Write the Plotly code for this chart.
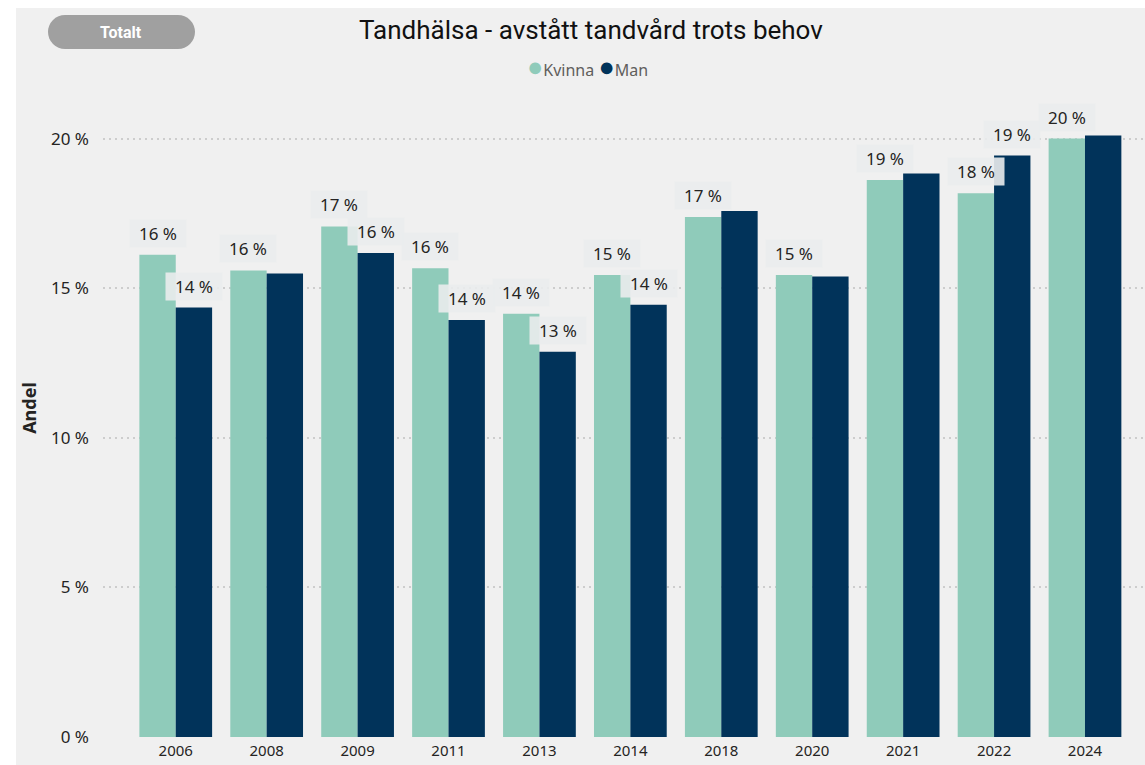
import plotly.graph_objects as go

years = ["2006", "2008", "2009", "2011", "2013", "2014", "2018", "2020", "2021", "2022", "2024"]
kvinna = [16.12, 15.6, 17.07, 15.67, 14.15, 15.45, 17.39, 15.45, 18.62, 18.18, 20.01]
man = [14.36, 15.5, 16.18, 13.94, 12.88, 14.45, 17.59, 15.4, 18.84, 19.44, 20.11]
show_kvinna = [True, True, True, True, True, True, True, True, True, True, True]
show_man = [True, False, True, True, True, True, False, False, False, True, False]
y_ticks = [0, 5, 10, 15, 20]
y_ticktext = ["0 %", "5 %", "10 %", "15 %", "20 %"]

C_KV = "#8FCBBA"
C_MAN = "#01335A"
TXT = "#252423"
W, H = 1145, 765
L, R, T, B = 103, 0, 79, 28
PW = W - L - R
PH = H - T - B


def xp(px):
    return (px - L) / PW


def yp(py):
    return (H - B - py) / PH


fig = go.Figure()
fig.add_trace(go.Bar(x=list(range(len(years))), y=kvinna, name="Kvinna", marker_color=C_KV,
                     marker_line_width=0, showlegend=False))
fig.add_trace(go.Bar(x=list(range(len(years))), y=man, name="Man", marker_color=C_MAN,
                     marker_line_width=0, showlegend=False))

annotations = []
for i, (k, m) in enumerate(zip(kvinna, man)):
    for val, show, off in ((k, show_kvinna[i], -0.2), (m, show_man[i], 0.2)):
        if not show:
            continue
        annotations.append(dict(
            x=i + off, y=val, xref="x", yref="y", text=f"{round(val)} %",
            showarrow=False, yanchor="bottom", xanchor="center", yshift=7,
            font=dict(family="Noto Sans", size=17, color=TXT),
            bgcolor="rgba(234,236,237,0.9)", borderpad=3, width=50, height=21,
        ))

# legend (Power BI style: dot + label, tightly spaced)
annotations.append(dict(
    x=xp(587), y=yp(66), xref="paper", yref="paper",
    text=(f'<span style="color:{C_KV};font-size:27px">●</span>Kvinna '
          f'<span style="color:{C_MAN};font-size:27px">●</span>Man'),
    showarrow=False, xanchor="center", yanchor="middle",
    font=dict(family="Noto Sans", size=16, color="#605E5C"),
))
annotations.append(dict(
    x=xp(121), y=yp(32), xref="paper", yref="paper", text="<b>Totalt</b>",
    showarrow=False, xanchor="center", yanchor="middle",
    font=dict(family="Roboto", size=16, color="white"),
))
annotations.append(dict(
    x=xp(591), y=yp(30), xref="paper", yref="paper",
    text="Tandhälsa - avstått tandvård trots behov",
    showarrow=False, xanchor="center", yanchor="middle",
    font=dict(family="Roboto", size=26, color="#111111"),
))

shapes = [
    dict(type="rect", xref="paper", yref="paper", x0=xp(0), x1=xp(W), y0=yp(0), y1=yp(8),
         fillcolor="white", line_width=0, layer="above"),
    dict(type="rect", xref="paper", yref="paper", x0=xp(0), x1=xp(16), y0=yp(0), y1=yp(H),
         fillcolor="white", line_width=0, layer="above"),
    dict(type="rect", xref="paper", yref="paper", x0=xp(65), x1=xp(178), y0=yp(15), y1=yp(49),
         fillcolor="#A0A0A0", line_width=0, layer="above"),
    dict(type="circle", xref="paper", yref="paper", x0=xp(48), x1=xp(82), y0=yp(15), y1=yp(49),
         fillcolor="#A0A0A0", line_width=0, layer="above"),
    dict(type="circle", xref="paper", yref="paper", x0=xp(161), x1=xp(195), y0=yp(15), y1=yp(49),
         fillcolor="#A0A0A0", line_width=0, layer="above"),
]

fig.update_layout(
    width=W, height=H, autosize=False,
    margin=dict(l=L, r=R, t=T, b=B, pad=0),
    paper_bgcolor="#F0F0F0", plot_bgcolor="rgba(0,0,0,0)",
    barmode="group", bargap=0.2, bargroupgap=0,
    annotations=annotations, shapes=shapes, showlegend=False,
    font=dict(family="Noto Sans", color=TXT),
)
fig.update_xaxes(
    tickmode="array", tickvals=list(range(len(years))), ticktext=years,
    range=[-0.8, 10.66], showgrid=False, zeroline=False, showline=False,
    tickfont=dict(family="Noto Sans", size=15, color=TXT), ticklabelstandoff=3,
)
fig.update_yaxes(
    range=[0, 22], tickvals=y_ticks, ticktext=y_ticktext,
    showgrid=True, gridcolor="#CDCDCD", griddash="2px,4px", gridwidth=1.5,
    zeroline=False, showline=False,
    tickfont=dict(family="Noto Sans", size=17, color=TXT), ticklabelstandoff=13,
    title=dict(text="<b>Andel</b>", font=dict(family="Noto Sans", size=18, color=TXT), standoff=9),
)

fig.write_html(
    "out.html",
    config={"displayModeBar": False},
    post_script="document.body.style.margin='0';document.body.style.overflow='hidden';",
)
